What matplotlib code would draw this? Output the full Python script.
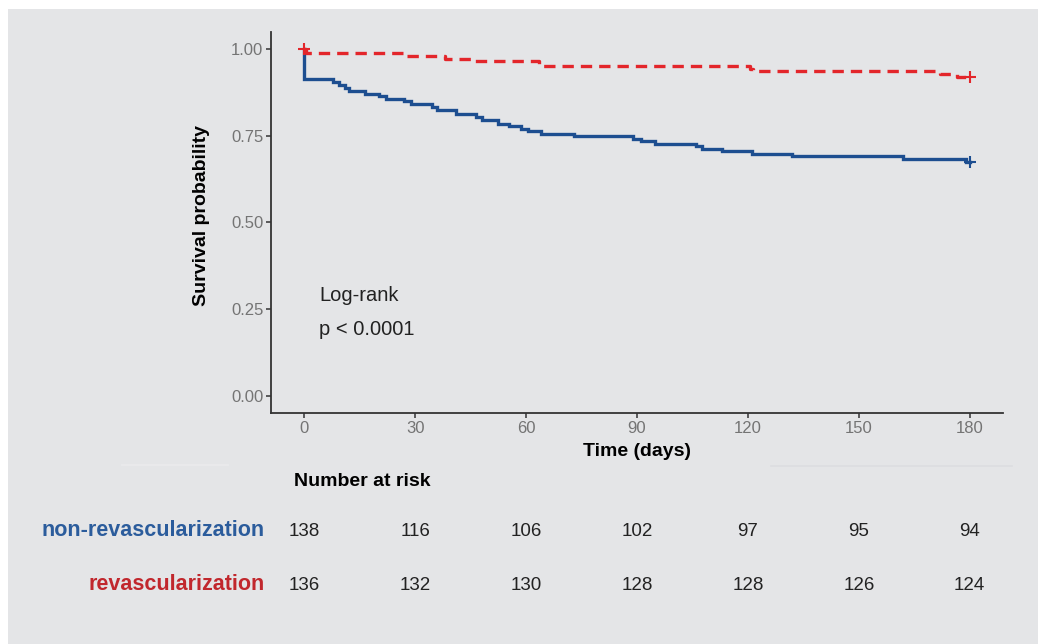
import matplotlib.pyplot as plt
from matplotlib.patches import Rectangle
from matplotlib.lines import Line2D
from matplotlib.transforms import blended_transform_factory

plt.rcParams['font.family'] = ['Liberation Sans', 'DejaVu Sans']

# Kaplan-Meier steps
nonrev_t = [0, 0, 7.7, 9.5, 11, 12.2, 16.3, 20.3, 22.1, 27, 28.9, 34.5, 36, 41, 46.5, 48,
            52.3, 55.3, 58.5, 60.4, 64, 72.9, 89, 91, 95, 106, 107.5, 113, 121, 132, 162, 179, 180]
nonrev_s = [1.0, 0.915, 0.907, 0.898, 0.889, 0.880, 0.872, 0.865, 0.858, 0.852, 0.843, 0.834, 0.824, 0.814, 0.805, 0.795,
            0.785, 0.779, 0.771, 0.764, 0.756, 0.750, 0.742, 0.734, 0.728, 0.720, 0.713, 0.705, 0.698, 0.691, 0.684, 0.676, 0.676]

rev_t = [0, 0.5, 27.5, 38, 45, 63.5, 64, 120.6, 121.5, 172, 176.5, 180]
rev_s = [1.0, 0.988, 0.981, 0.973, 0.966, 0.958, 0.951, 0.943, 0.936, 0.928, 0.920, 0.920]

risk_times = [0, 30, 60, 90, 120, 150, 180]
risk_nonrev = [138, 116, 106, 102, 97, 95, 94]
risk_rev = [136, 132, 130, 128, 128, 126, 124]

W, H = 1038, 644
bg = '#e4e5e7'
blue = '#1d4e90'
red = '#e3262b'

fig = plt.figure(figsize=(W / 100, H / 100), dpi=100, facecolor='white')
fig.patches.append(Rectangle((8 / W, 0), 1, 1 - 9 / H, transform=fig.transFigure,
                             facecolor=bg, edgecolor='none', zorder=-10))

ax = fig.add_axes([271 / W, 1 - 413 / H, (1003 - 271) / W, (413 - 32) / H])
ax.set_facecolor('none')

ax.plot(nonrev_t, nonrev_s, drawstyle='steps-post', color=blue, lw=2.4, solid_joinstyle='miter')
ax.plot(rev_t, rev_s, drawstyle='steps-post', color=red, lw=2.4, linestyle=(0, (3.4, 2.1)))

# censor marks
ax.plot([rev_t[-1]], [rev_s[-1]], marker='+', color=red, ms=8, mew=1.5)
ax.plot([nonrev_t[-1]], [nonrev_s[-1]], marker='+', color=blue, ms=8, mew=1.5)
ax.plot([0], [1.0], marker='+', color=red, ms=8, mew=1.5)

ax.set_xlim(-9, 189)
ax.set_ylim(-0.05, 1.05)
ax.set_xticks(risk_times)
ax.set_yticks([0, 0.25, 0.5, 0.75, 1.0])
ax.set_yticklabels(['0.00', '0.25', '0.50', '0.75', '1.00'])
for s in ['top', 'right']:
    ax.spines[s].set_visible(False)
for s in ['left', 'bottom']:
    ax.spines[s].set_color('#333333')
    ax.spines[s].set_linewidth(1.3)
ax.tick_params(axis='both', length=3.5, width=1.1, color='#333333',
               labelcolor='#747474', labelsize=12, pad=2)

ax.text(4, 0.288, 'Log-rank', fontsize=14.5, color='#222222', va='center', ha='left')
ax.text(4, 0.190, 'p < 0.0001', fontsize=14.5, color='#222222', va='center', ha='left')

fig.text(201.7 / W, 1 - 215 / H, 'Survival probability', rotation=90, fontsize=14,
         fontweight='bold', ha='center', va='center')
fig.text(637 / W, 1 - 452 / H, 'Time (days)', fontsize=14, fontweight='bold',
         ha='center', va='center')

# faint separator artefacts
fig.lines.append(Line2D([122 / W, 228 / W], [1 - 465 / H] * 2, transform=fig.transFigure,
                        color='#ebebed', lw=1.2))
fig.lines.append(Line2D([771 / W, 1012 / W], [1 - 466 / H] * 2, transform=fig.transFigure,
                        color='#dcdde0', lw=1.2))

# risk table
tr = blended_transform_factory(ax.transData, fig.transFigure)
fig.text(294 / W, 1 - 482 / H, 'Number at risk', fontsize=14, fontweight='bold',
         ha='left', va='center')
y1 = 1 - 531 / H
y2 = 1 - 585 / H
fig.text(265 / W, 1 - 530 / H, 'non-revascularization', fontsize=15.5, fontweight='bold',
         color='#2b5c9c', ha='right', va='center')
fig.text(265 / W, 1 - 584 / H, 'revascularization', fontsize=15.5, fontweight='bold',
         color='#c1272d', ha='right', va='center')
for t, n1, n2 in zip(risk_times, risk_nonrev, risk_rev):
    fig.text(t, y1, str(n1), transform=tr, fontsize=13.5, color='#222222', ha='center', va='center')
    fig.text(t, y2, str(n2), transform=tr, fontsize=13.5, color='#222222', ha='center', va='center')

fig.savefig('out.png', dpi=100, facecolor=fig.get_facecolor())
